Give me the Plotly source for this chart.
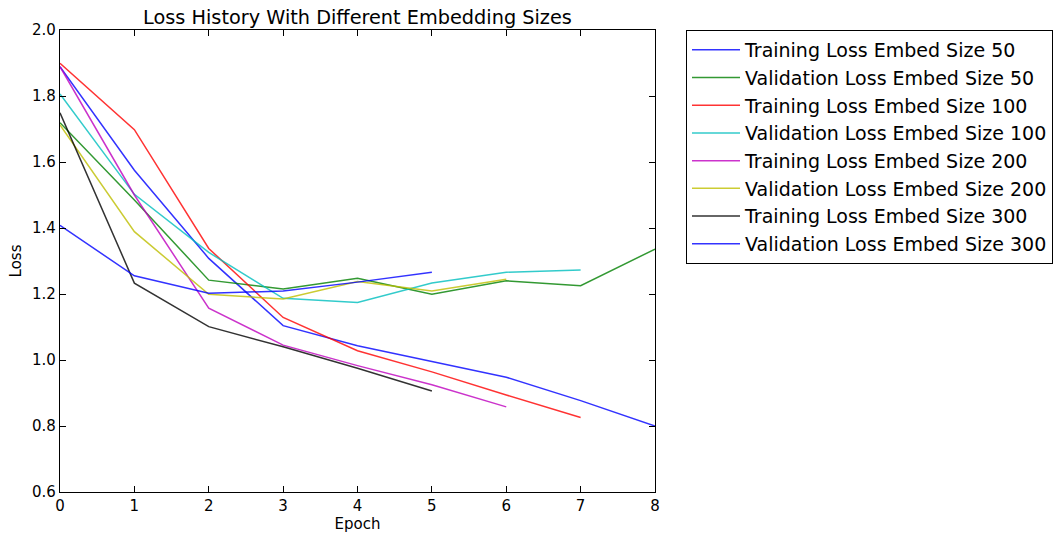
import plotly.graph_objects as go

epochs = [0, 1, 2, 3, 4, 5, 6, 7, 8]

train_50 = [1.889, 1.575, 1.308, 1.104, 1.043, 0.995, 0.948, 0.877, 0.800]
val_50 = [1.719, 1.485, 1.242, 1.215, 1.248, 1.199, 1.240, 1.225, 1.336]
train_100 = [1.899, 1.698, 1.338, 1.129, 1.028, 0.964, 0.894, 0.826]
val_100 = [1.806, 1.502, 1.326, 1.187, 1.174, 1.233, 1.266, 1.273]
train_200 = [1.889, 1.500, 1.157, 1.045, 0.983, 0.925, 0.858]
val_200 = [1.712, 1.389, 1.199, 1.185, 1.238, 1.209, 1.245]
train_300 = [1.749, 1.233, 1.101, 1.040, 0.975, 0.906]
val_300 = [1.408, 1.255, 1.202, 1.209, 1.236, 1.266]

series = [
    ("Training Loss Embed Size 50", train_50, "#0000ff"),
    ("Validation Loss Embed Size 50", val_50, "#008000"),
    ("Training Loss Embed Size 100", train_100, "#ff0000"),
    ("Validation Loss Embed Size 100", val_100, "#00bfbf"),
    ("Training Loss Embed Size 200", train_200, "#bf00bf"),
    ("Validation Loss Embed Size 200", val_200, "#bfbf00"),
    ("Training Loss Embed Size 300", train_300, "#000000"),
    ("Validation Loss Embed Size 300", val_300, "#0000ff"),
]

fig = go.Figure()
for i, (name, vals, color) in enumerate(series):
    fig.add_trace(go.Scatter(
        x=epochs[:len(vals)], y=vals, mode="lines", name=name,
        line=dict(color=color, width=1.5), opacity=0.8,
    ))

font = "DejaVu Sans, sans-serif"
axis_common = dict(
    showline=True, linecolor="black", linewidth=1.3, mirror="ticks",
    ticks="inside", ticklen=6, tickcolor="black", showgrid=False,
    zeroline=False, automargin=False,
    tickfont=dict(family=font, size=15, color="black"),
)

fig.update_layout(
    width=1055, height=535,
    margin=dict(l=60, r=400, t=30, b=43, autoexpand=False),
    paper_bgcolor="white", plot_bgcolor="white",
    title=dict(text="Loss History With Different Embedding Sizes",
               x=(60 + 655) / 2 / 1055, xanchor="center",
               y=1 - 17 / 535, yanchor="middle",
               font=dict(family=font, size=19.3, color="black")),
    xaxis=dict(range=[0, 8], dtick=1, tickformat="d",
               title=dict(text="Epoch", font=dict(family=font, size=15, color="black"), standoff=4),
               **axis_common),
    yaxis=dict(range=[0.6, 2.0], dtick=0.2, tickformat=".1f",
               title=dict(text="Loss", font=dict(family=font, size=15, color="black"), standoff=6),
               **axis_common),
    legend=dict(x=(686 - 60) / 595, xanchor="left", y=1, yanchor="top",
                bordercolor="black", borderwidth=1, bgcolor="white",
                font=dict(family=font, size=19, color="black"),
                itemwidth=48, traceorder="normal"),
    showlegend=True,
)

fig.write_html("out.html",
               config={"displayModeBar": False},
               post_script="document.body.style.margin='0px';document.body.style.overflow='hidden';")
